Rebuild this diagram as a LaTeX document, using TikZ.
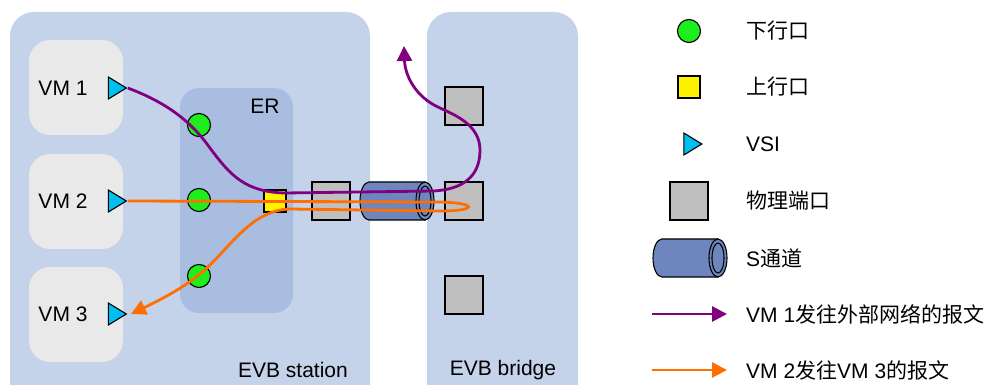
\documentclass[tikz,border=0pt]{standalone}
\usepackage{fontspec}
\setmainfont{Liberation Sans}
\newfontfamily\cjk{Noto Sans CJK SC}
\usetikzlibrary{arrows.meta,shapes.geometric}
\definecolor{hatter}{RGB}{196,211,234}
\definecolor{erkek}{RGB}{169,189,224}
\definecolor{vmszurke}{RGB}{233,233,233}
\definecolor{zoldpont}{RGB}{30,238,30}
\definecolor{vsikek}{RGB}{0,190,240}
\definecolor{csokek}{RGB}{109,134,190}
\definecolor{lilavonal}{RGB}{128,0,128}
\definecolor{narancsvonal}{RGB}{255,110,0}
\tikzset{
  lap/.style={fill=hatter,rounded corners=24pt,anchor=north west,inner sep=0pt,outer sep=0pt},
  gep/.style={fill=vmszurke,rounded corners=21pt,anchor=north west,inner sep=0pt,outer sep=0pt},
  felirat/.style={inner sep=0pt},
  le/.style={circle,draw,line width=1.1pt,fill=zoldpont,minimum size=23pt,inner sep=0pt},
  fel/.style={rectangle,draw,line width=1.1pt,fill=yellow,minimum size=22pt,inner sep=0pt},
  vsi/.style={isosceles triangle,isosceles triangle stretches,draw,line width=1.1pt,fill=vsikek,
    minimum width=22pt,minimum height=18pt,inner sep=0pt},
  port/.style={rectangle,draw,line width=1.1pt,fill=black!25,minimum size=38pt,inner sep=0pt},
  lila/.style={draw=lilavonal,line width=2.8pt,-{Triangle[length=15pt,width=15pt]}},
  narancs/.style={draw=narancsvonal,line width=2.8pt,-{Triangle[length=15pt,width=15pt]}},
  csatorna/.pic={
    \draw[line width=1.1pt,fill=csokek] (28,19) -- (-28,19) arc(90:270:9 and 19) -- (28,-19) -- cycle;
    \draw[line width=1.1pt,fill=csokek] (28,0) ellipse (9 and 19);
    \draw[line width=1.1pt] (28,0) ellipse (6 and 15);
  },
}
\begin{document}
\begin{tikzpicture}[x=1pt,y=-1pt,font=\fontsize{21}{25}\selectfont]
  \useasboundingbox (0,0) rectangle (989,385);
  % hatter
  \node (station) [lap,minimum width=360pt,minimum height=400pt] at (10,12) {};
  \node (bridge) [lap,minimum width=151pt,minimum height=400pt] at (427,12) {};
  \node (er) [lap,fill=erkek,rounded corners=19pt,minimum width=113pt,minimum height=225pt] at (180,88) {};
  \node (vm1) [gep,minimum width=94pt,minimum height=95pt] at (29,40) {};
  \node (vm2) [gep,minimum width=94pt,minimum height=95pt] at (29,154) {};
  \node (vm3) [gep,minimum width=94pt,minimum height=95pt] at (29,267) {};
  \node (vm1t) [felirat] at (63,88) {VM 1};
  \node (vm2t) [felirat] at (63,201) {VM 2};
  \node (vm3t) [felirat] at (63,314) {VM 3};
  \node (ert) [felirat] at (265,106) {ER};
  \node (stationt) [felirat] at (293,370) {EVB station};
  \node (bridget) [felirat] at (503,370) {EVB bridge};
  % portok
  \node (vsi1) [vsi] at (114.5,88) {};
  \node (vsi2) [vsi] at (114.5,201) {};
  \node (vsi3) [vsi] at (114.5,314) {};
  \node (le1) [le] at (199,125) {};
  \node (le2) [le] at (199,200) {};
  \node (le3) [le] at (199,276) {};
  \node (fel1) [fel] at (275,201) {};
  \node (p1) [port] at (331,201) {};
  \pic at (397,201) {csatorna};
  \node (p2) [port] at (464,106) {};
  \node (p3) [port] at (464,201) {};
  \node (p4) [port] at (464,295) {};
  % forgalom
  \coordinate (ki) at (404,46);
  \coordinate (vm3be) at (131,314);
  \draw[lila] (vsi1.apex) .. controls (165,102) and (190,120) .. (210,148)
    .. controls (230,175) and (245,192) .. (285,193) -- (434,191)
    .. controls (465,189) and (480,175) .. (480,150)
    .. controls (480,125) and (455,115) .. (440,108)
    .. controls (415,97) and (405,75) .. (ki);
  \draw[narancs] (vsi2.apex) -- (440,202) .. controls (478,203) and (478,211) .. (440,211)
    -- (290,209) .. controls (255,210) and (235,240) .. (210,265)
    .. controls (190,285) and (160,300) .. (vm3be);
  % jelmagyarazat
  \node (j1) [le] at (689,31) {};
  \node (j2) [fel] at (689,87) {};
  \node (j3) [vsi] at (690,144) {};
  \node (j4) [port] at (689,201) {};
  \pic at (690,258) {csatorna};
  \coordinate (j6a) at (652,314);
  \coordinate (j6b) at (727,314);
  \coordinate (j7a) at (652,370);
  \coordinate (j7b) at (727,370);
  \draw[lila] (j6a) -- (j6b);
  \draw[narancs] (j7a) -- (j7b);
  \node (j1t) [felirat,anchor=west] at (746,31) {\cjk 下行口};
  \node (j2t) [felirat,anchor=west] at (746,87) {\cjk 上行口};
  \node (j3t) [felirat,anchor=west] at (746,144) {VSI};
  \node (j4t) [felirat,anchor=west] at (746,201) {\cjk 物理端口};
  \node (j5t) [felirat,anchor=west] at (746,258) {S{\cjk 通道}};
  \node (j6t) [felirat,anchor=west] at (746,314) {VM 1{\cjk 发往外部网络的报文}};
  \node (j7t) [felirat,anchor=west] at (746,370) {VM 2{\cjk 发往}VM 3{\cjk 的报文}};
\end{tikzpicture}
\end{document}
